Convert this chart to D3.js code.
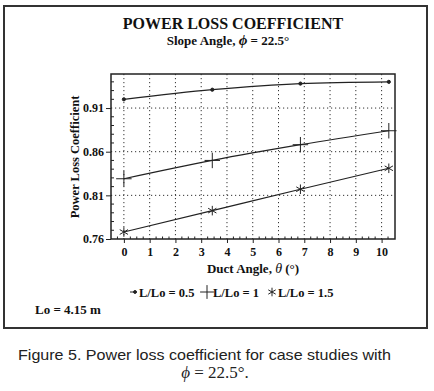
<!DOCTYPE html>
<html>
<head>
<meta charset="utf-8">
<script src="https://cdn.jsdelivr.net/npm/d3@7"></script>
<style>
  body { margin: 0; background: #fff; }
  svg { display: block; }
</style>
</head>
<body>
<svg id="chart"></svg>
<script>
// duct angle (deg) at which the cases were run
const ductAngles = [0, 3.43, 6.85, 10.28];
// power loss coefficient for each L/Lo
const lossHalf = [0.920, 0.931, 0.938, 0.940];
const lossOne = [0.829, 0.850, 0.868, 0.884];
const lossOneHalf = [0.768, 0.7925, 0.817, 0.841];
const seriesNames = ['L/Lo = 0.5', 'L/Lo = 1', 'L/Lo = 1.5'];
const xTicks = [0, 1, 2, 3, 4, 5, 6, 7, 8, 9, 10];
const yTicks = [0.76, 0.81, 0.86, 0.91];

const width = 434, height = 391;
const plot = {left: 111, right: 395, top: 74, bottom: 239};
const serif = "'Liberation Serif', 'Times New Roman', serif";

const svg = d3.select('#chart')
  .attr('width', width)
  .attr('height', height);

// outer frame
svg.append('rect')
  .attr('x', 4).attr('y', 6)
  .attr('width', 423).attr('height', 322)
  .attr('fill', 'none')
  .attr('stroke', '#333')
  .attr('stroke-width', 2);

const x = d3.scaleLinear().domain([-0.5, 10.52]).range([plot.left, plot.right]);
const y = d3.scaleLinear().domain([0.76, 0.949]).range([plot.bottom, plot.top]);

// grid
svg.append('g')
  .selectAll('line')
  .data(xTicks)
  .join('line')
  .attr('x1', d => x(d)).attr('x2', d => x(d))
  .attr('y1', plot.top).attr('y2', plot.bottom)
  .attr('stroke', '#333')
  .attr('stroke-width', 1)
  .attr('stroke-dasharray', '1.2,2.8');

svg.append('g')
  .selectAll('line')
  .data(yTicks.slice(1))
  .join('line')
  .attr('x1', plot.left).attr('x2', plot.right)
  .attr('y1', d => y(d)).attr('y2', d => y(d))
  .attr('stroke', '#333')
  .attr('stroke-width', 1)
  .attr('stroke-dasharray', '1.2,2.8');

// minor ticks on the inside
const minorY = d3.range(0.77, 0.949, 0.01).filter(v => !yTicks.some(t => Math.abs(t - v) < 1e-6));
svg.append('g')
  .selectAll('line')
  .data(minorY)
  .join('line')
  .attr('x1', plot.left).attr('x2', plot.left + 3)
  .attr('y1', d => y(d)).attr('y2', d => y(d))
  .attr('stroke', '#222');

const minorX = d3.range(-0.25, 10.5, 0.25).filter(v => Math.abs(v - Math.round(v)) > 1e-6);
svg.append('g')
  .selectAll('line')
  .data(minorX)
  .join('line')
  .attr('x1', d => x(d)).attr('x2', d => x(d))
  .attr('y1', plot.bottom).attr('y2', plot.bottom - 2.5)
  .attr('stroke', '#222');

// axes
const xAxis = svg.append('g')
  .attr('transform', `translate(0, ${plot.bottom})`)
  .call(d3.axisBottom(x).tickValues(xTicks).tickSize(4).tickPadding(4).tickFormat(d3.format('d')));
const yAxis = svg.append('g')
  .attr('transform', `translate(${plot.left}, 0)`)
  .call(d3.axisLeft(y).tickValues(yTicks).tickSize(5).tickPadding(2).tickFormat(d3.format('.2f')));

[xAxis, yAxis].forEach(a => {
  a.select('.domain').remove();
  a.selectAll('line').attr('stroke', '#222');
  a.selectAll('text')
    .attr('fill', '#111')
    .style('font-family', serif)
    .style('font-weight', 'bold')
    .style('font-size', '12px');
});

// plot box
svg.append('rect')
  .attr('x', plot.left).attr('y', plot.top)
  .attr('width', plot.right - plot.left)
  .attr('height', plot.bottom - plot.top)
  .attr('fill', 'none')
  .attr('stroke', '#222')
  .attr('stroke-width', 1.5);

// series
const allSeries = [lossHalf, lossOne, lossOneHalf];
const symbols = [d3.symbolCircle, d3.symbolPlus, d3.symbolAsterisk];
const symbolSizes = [8, 80, 64];

const line = d3.line()
  .x((d, i) => x(ductAngles[i]))
  .y(d => y(d))
  .curve(d3.curveMonotoneX);

allSeries.forEach((vals, s) => {
  svg.append('path')
    .datum(vals)
    .attr('d', line)
    .attr('fill', 'none')
    .attr('stroke', '#222')
    .attr('stroke-width', 1.2);

  svg.append('g')
    .selectAll('path')
    .data(vals)
    .join('path')
    .attr('transform', (d, i) => `translate(${x(ductAngles[i])}, ${y(d)})`)
    .attr('d', d3.symbol().type(symbols[s]).size(symbolSizes[s]))
    .attr('fill', s === 0 ? '#222' : 'none')
    .attr('stroke', '#222')
    .attr('stroke-width', 1);
});

// titles
svg.append('text')
  .attr('x', 233).attr('y', 29)
  .attr('text-anchor', 'middle')
  .style('font-family', serif)
  .style('font-weight', 'bold')
  .style('font-size', '16px')
  .attr('fill', '#111')
  .text('POWER LOSS COEFFICIENT');

const sub = svg.append('text')
  .attr('x', 228).attr('y', 45)
  .attr('text-anchor', 'middle')
  .style('font-family', serif)
  .style('font-weight', 'bold')
  .style('font-size', '13px')
  .attr('fill', '#111');
sub.append('tspan').text('Slope Angle, ');
sub.append('tspan').style('font-style', 'italic').style('font-size', '15px').text('ϕ');
sub.append('tspan').text(' = 22.5°');

svg.append('text')
  .attr('transform', 'translate(79, 157) rotate(-90)')
  .attr('text-anchor', 'middle')
  .style('font-family', serif)
  .style('font-weight', 'bold')
  .style('font-size', '12.5px')
  .attr('fill', '#111')
  .text('Power Loss Coefficient');

const xl = svg.append('text')
  .attr('x', 253).attr('y', 273)
  .attr('text-anchor', 'middle')
  .style('font-family', serif)
  .style('font-weight', 'bold')
  .style('font-size', '13px')
  .attr('fill', '#111');
xl.append('tspan').text('Duct Angle,  ');
xl.append('tspan').style('font-style', 'italic').style('font-weight', 'normal').style('font-size', '14px').text('θ');
xl.append('tspan').text(' (°)');

// legend
const legendX = [135, 207, 272];
const legend = svg.append('g');
seriesNames.forEach((name, s) => {
  const g = legend.append('g').attr('transform', `translate(${legendX[s]}, 292)`);
  if (s === 0) {
    g.append('line').attr('x1', -5).attr('x2', 2).attr('y1', 0).attr('y2', 0)
      .attr('stroke', '#222');
  }
  g.append('path')
    .attr('d', d3.symbol().type(symbols[s]).size(symbolSizes[s] * 0.8))
    .attr('fill', s === 0 ? '#222' : 'none')
    .attr('stroke', '#222');
  g.append('text')
    .attr('x', s === 0 ? 4 : 6).attr('y', 4.5)
    .style('font-family', serif)
    .style('font-weight', 'bold')
    .style('font-size', '12.5px')
    .attr('fill', '#111')
    .text(name);
});

svg.append('text')
  .attr('x', 35).attr('y', 314)
  .style('font-family', serif)
  .style('font-weight', 'bold')
  .style('font-size', '13px')
  .attr('fill', '#111')
  .text('Lo = 4.15 m');

// caption
svg.append('text')
  .attr('x', 18).attr('y', 360)
  .style('font-family', "'Liberation Sans', sans-serif")
  .style('font-size', '15px')
  .attr('textLength', 373)
  .attr('lengthAdjust', 'spacingAndGlyphs')
  .attr('fill', '#222')
  .text('Figure 5. Power loss coefficient for case studies with');

const cap2 = svg.append('text')
  .attr('x', 215).attr('y', 378)
  .attr('text-anchor', 'middle')
  .style('font-family', serif)
  .style('font-size', '17px')
  .attr('fill', '#222');
cap2.append('tspan').style('font-style', 'italic').text('ϕ');
cap2.append('tspan').text(' = 22.5°.');
</script>
</body>
</html>
